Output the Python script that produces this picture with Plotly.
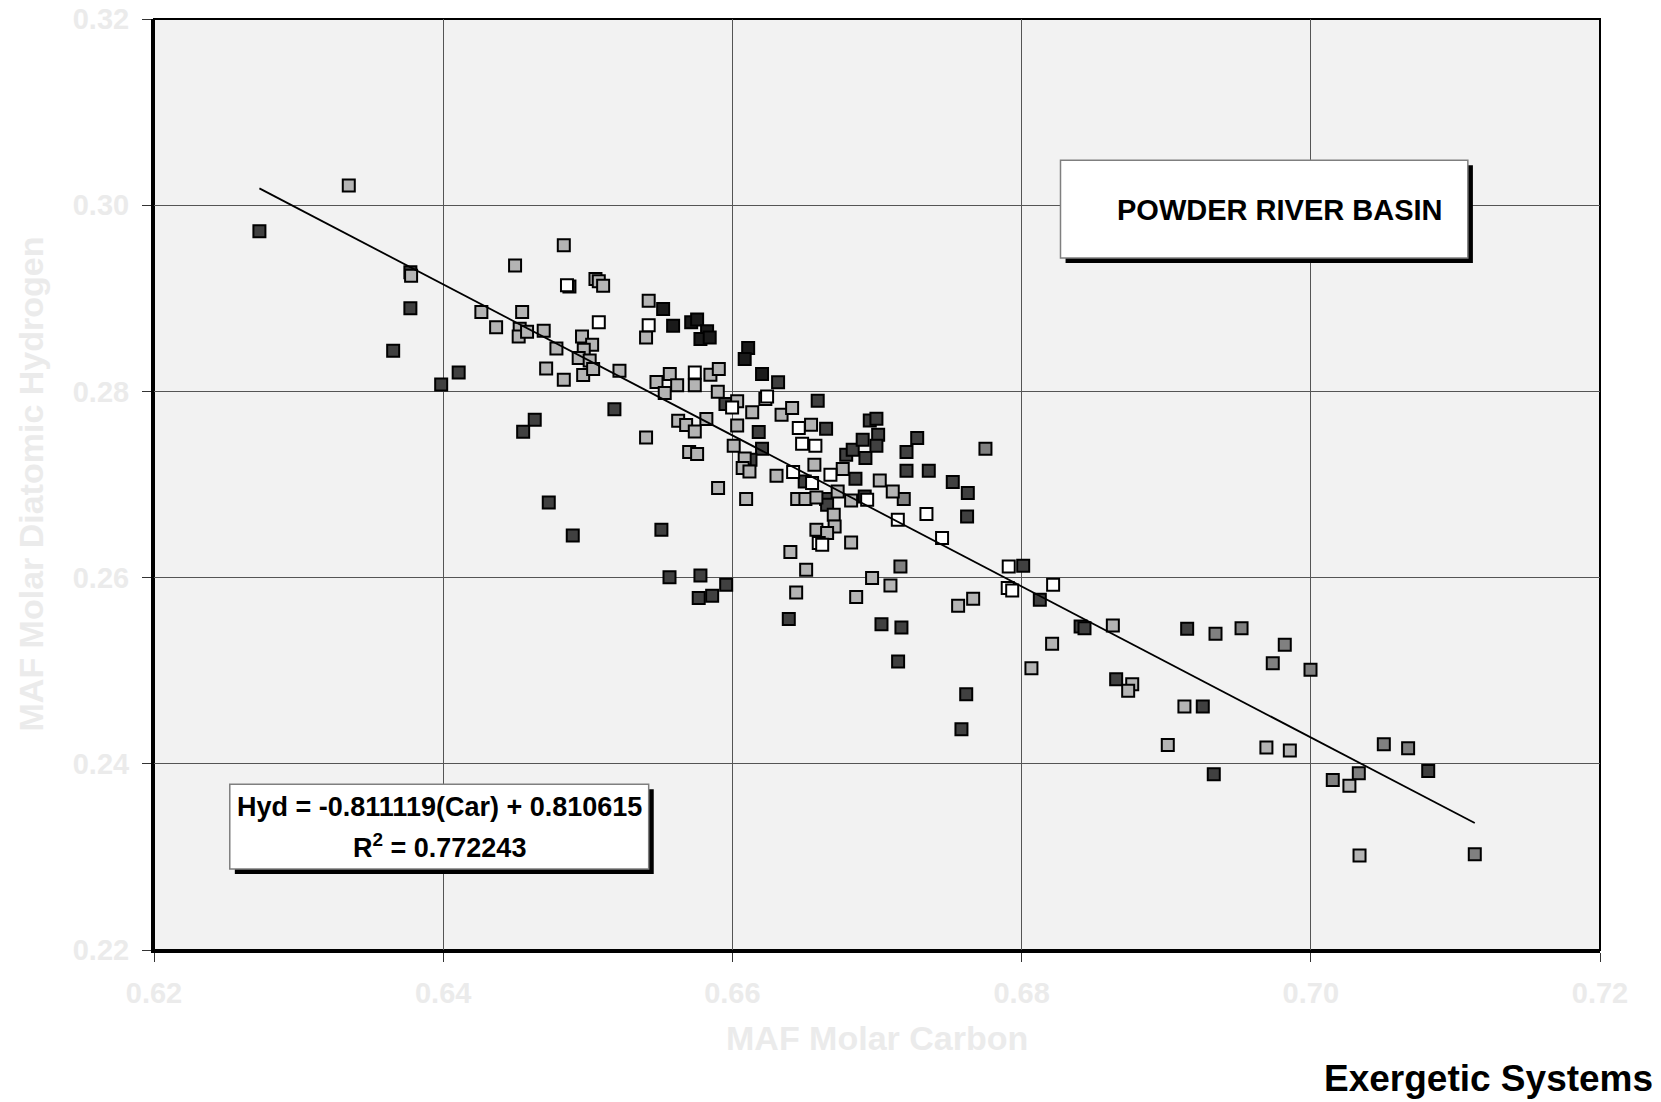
import plotly.graph_objects as go

# ---------------- data ----------------
light_x = [0.63347, 0.63778, 0.64834, 0.64497, 0.65053, 0.65076, 0.65106, 0.65421, 0.65403, 0.64264,
           0.64546, 0.64366, 0.64529, 0.64522, 0.64580, 0.64695, 0.64783, 0.64960, 0.65030, 0.64972,
           0.64937, 0.65013, 0.64712, 0.64834, 0.64968, 0.65037, 0.65219, 0.65475, 0.65567, 0.65618,
           0.65532, 0.65740, 0.65403, 0.65625, 0.65680, 0.65740, 0.65701, 0.65848, 0.65906, 0.65899,
           0.66033, 0.65820, 0.65756, 0.65901, 0.66033, 0.66137, 0.66009, 0.66085, 0.66071, 0.66118,
           0.66095, 0.66340, 0.66413, 0.66544, 0.66305, 0.66567, 0.66763, 0.66448, 0.66505, 0.66581,
           0.66728, 0.66821, 0.66701, 0.66707, 0.66581, 0.66655, 0.66821, 0.66401, 0.66510, 0.66441,
           0.67019, 0.67109, 0.66966, 0.67093, 0.66856, 0.67561, 0.67665, 0.68211, 0.68068, 0.68631,
           0.68765, 0.68737, 0.69126, 0.69011, 0.69693, 0.69855, 0.70267, 0.70337]
light_y = [0.30211, 0.29243, 0.29569, 0.29351, 0.29208, 0.29182, 0.29136, 0.28975, 0.28580, 0.28853,
           0.28853, 0.28688, 0.28674, 0.28591, 0.28642, 0.28652, 0.28462, 0.28591, 0.28502, 0.28448,
           0.28359, 0.28333, 0.28247, 0.28126, 0.28176, 0.28241, 0.28222, 0.28101, 0.28187, 0.28065,
           0.27983, 0.28065, 0.27506, 0.27685, 0.27639, 0.27570, 0.27349, 0.28180, 0.28241, 0.27997,
           0.27893, 0.27703, 0.27327, 0.26962, 0.27634, 0.27775, 0.27416, 0.27280, 0.27177, 0.27140,
           0.26844, 0.27750, 0.27822, 0.27642, 0.27094, 0.27212, 0.27166, 0.26844, 0.26844, 0.26861,
           0.26925, 0.26829, 0.26675, 0.26549, 0.26514, 0.26478, 0.26377, 0.26274, 0.26084, 0.25840,
           0.27044, 0.26925, 0.25995, 0.25915, 0.25791, 0.25697, 0.25772, 0.25289, 0.25027, 0.25485,
           0.24855, 0.24784, 0.24615, 0.24203, 0.24174, 0.24142, 0.23763, 0.23014]

medium_x = [0.67185, 0.67750, 0.67162, 0.69341, 0.69521, 0.69820, 0.69737, 0.69998, 0.70152, 0.70332,
            0.70505, 0.70673, 0.71134]
medium_y = [0.26844, 0.27384, 0.26120, 0.25396, 0.25457, 0.25278, 0.25081, 0.25009, 0.23827, 0.23899,
            0.24211, 0.24168, 0.23029]

dark_x = [0.62729, 0.63773, 0.63773, 0.63654, 0.64107, 0.63986, 0.64873, 0.65184, 0.64633, 0.64553,
          0.64730, 0.64896, 0.65509, 0.66316, 0.65952, 0.66182, 0.66205, 0.66125, 0.66590, 0.66648,
          0.66500, 0.66787, 0.66832, 0.66901, 0.66950, 0.66996, 0.67008, 0.66996, 0.66920, 0.66851,
          0.66648, 0.66655, 0.66915, 0.66390, 0.67204, 0.67278, 0.67204, 0.67358, 0.67524, 0.67628,
          0.67623, 0.67031, 0.67169, 0.67146, 0.68011, 0.68126, 0.68408, 0.68435, 0.65565, 0.65779,
          0.65767, 0.65860, 0.65957, 0.68654, 0.69145, 0.69253, 0.69329, 0.70812, 0.67617, 0.67584]
dark_y = [0.29720, 0.29279, 0.28892, 0.28437, 0.28204, 0.28075, 0.29128, 0.27807, 0.27696, 0.27567,
          0.26807, 0.26453, 0.26514, 0.28097, 0.27865, 0.27564, 0.27384, 0.27266, 0.27900, 0.27599,
          0.27033, 0.27320, 0.27373, 0.27481, 0.27688, 0.27707, 0.27535, 0.27416, 0.27284, 0.27062,
          0.26844, 0.26782, 0.26872, 0.25554, 0.27349, 0.27499, 0.27148, 0.27148, 0.27026, 0.26908,
          0.26657, 0.25500, 0.25464, 0.25099, 0.26127, 0.25761, 0.25475, 0.25457, 0.26005, 0.26023,
          0.25780, 0.25804, 0.25923, 0.24909, 0.25450, 0.24615, 0.23888, 0.23924, 0.24748, 0.24372]

darkest_x = [0.65521, 0.65590, 0.65715, 0.65756, 0.65825, 0.65779, 0.65843, 0.66109, 0.66085, 0.66205]
darkest_y = [0.28885, 0.28706, 0.28742, 0.28771, 0.28645, 0.28563, 0.28580, 0.28467, 0.28348, 0.28187]

white_x = [0.64856, 0.65076, 0.65421, 0.65740, 0.65998, 0.66228, 0.66240, 0.66459, 0.66482, 0.66574,
           0.66420, 0.66551, 0.66678, 0.66932, 0.66597, 0.66621, 0.67144, 0.67342, 0.67450, 0.67911,
           0.67904, 0.67935, 0.68218]
white_y = [0.29139, 0.28742, 0.28710, 0.28204, 0.27828, 0.27918, 0.27946, 0.27607, 0.27439, 0.27416,
           0.27134, 0.27015, 0.27105, 0.26836, 0.26371, 0.26353, 0.26621, 0.26682, 0.26425, 0.26120,
           0.25887, 0.25861, 0.25923]

slope = -0.811119
intercept = 0.810615
r_squared = 0.772243

x_ticks = [0.62, 0.64, 0.66, 0.68, 0.70, 0.72]
y_ticks = [0.22, 0.24, 0.26, 0.28, 0.30, 0.32]

# ---------------- figure ----------------
FONT = "Liberation Sans, Arial, Helvetica, sans-serif"
LABEL_GRAY = "#ebebeb"

fig = go.Figure()

series = [
    (dark_x, dark_y, "#404040"),
    (darkest_x, darkest_y, "#1a1a1a"),
    (medium_x, medium_y, "#808080"),
    (light_x, light_y, "#b4b4b4"),
    (white_x, white_y, "#ffffff"),
]
for xs, ys, col in series:
    fig.add_trace(go.Scatter(
        x=xs, y=ys, mode="markers",
        marker=dict(symbol="square", size=12, color=col,
                    line=dict(color="#000000", width=2)),
        showlegend=False, hoverinfo="x+y"))

all_x = light_x + medium_x + dark_x + darkest_x + white_x
line_x = [min(all_x), max(all_x)]
line_y = [slope * v + intercept for v in line_x]
fig.add_trace(go.Scatter(x=line_x, y=line_y, mode="lines",
                         line=dict(color="#000000", width=1.8), showlegend=False,
                         hoverinfo="skip"))

# text boxes (shadow + white box)
def add_box(x0, x1, y0, y1):
    dx, dy = 0.00035, 0.00055
    fig.add_shape(type="rect", xref="x", yref="y", x0=x0 + dx, x1=x1 + dx, y0=y0 - dy, y1=y1 - dy,
                  fillcolor="#000000", line=dict(width=0), layer="above")
    fig.add_shape(type="rect", xref="x", yref="y", x0=x0, x1=x1, y0=y0, y1=y1,
                  fillcolor="#ffffff", line=dict(color="#7f7f7f", width=1.5), layer="above")

add_box(0.68269, 0.71086, 0.29434, 0.30483)
add_box(0.62524, 0.65421, 0.22870, 0.23781)

fig.add_annotation(x=0.69783, y=0.29945, xref="x", yref="y", text="POWDER RIVER BASIN",
                   showarrow=False, xanchor="center", yanchor="middle",
                   font=dict(family=FONT, size=29, color="#000000", weight="bold"))
fig.add_annotation(x=0.63977, y=0.23537, xref="x", yref="y",
                   text=f"Hyd = {slope:.6f}(Car) + {intercept:.6f}",
                   showarrow=False, xanchor="center", yanchor="middle",
                   font=dict(family=FONT, size=27, color="#000000", weight="bold"))
fig.add_annotation(x=0.63977, y=0.23121, xref="x", yref="y",
                   text=f"R<sup>2</sup> = {r_squared:.6f}",
                   showarrow=False, xanchor="center", yanchor="middle",
                   font=dict(family=FONT, size=27, color="#000000", weight="bold"))

# axis titles
fig.add_annotation(x=0.5, y=0, xref="paper", yref="paper", text="MAF Molar Carbon",
                   showarrow=False, xanchor="center", yanchor="middle", yshift=-88,
                   font=dict(family=FONT, size=34, color=LABEL_GRAY, weight="bold"))
fig.add_annotation(x=0, y=0.5, xref="paper", yref="paper", text="MAF Molar Diatomic Hydrogen",
                   showarrow=False, xanchor="center", yanchor="middle", xshift=-124,
                   textangle=-90,
                   font=dict(family=FONT, size=34, color=LABEL_GRAY, weight="bold"))
fig.add_annotation(x=1, y=0, xref="paper", yref="paper", text="Exergetic Systems",
                   showarrow=False, xanchor="right", yanchor="middle", xshift=55, yshift=-128,
                   font=dict(family=FONT, size=37, color="#000000", weight="bold"))

# frame on top/right
fig.add_shape(type="rect", xref="paper", yref="paper", x0=0, x1=1, y0=0, y1=1,
              line=dict(color="#000000", width=2), layer="below")

axis_common = dict(
    showgrid=True, gridcolor="#555555", gridwidth=1, zeroline=False,
    showline=True, linecolor="#000000", linewidth=3, mirror=False,
    ticks="outside", ticklen=9, tickwidth=1, tickcolor="#333333",
    tickfont=dict(family=FONT, size=29, color=LABEL_GRAY, weight="bold"),
    automargin=False, ticklabeloverflow="allow",
)

fig.update_xaxes(range=[0.62, 0.72], tickvals=x_ticks, ticktext=[f"{v:.2f}" for v in x_ticks],
                 ticklabelstandoff=6, **axis_common)
fig.update_yaxes(range=[0.22, 0.32], tickvals=y_ticks, ticktext=[f"{v:.2f}" for v in y_ticks],
                 ticklabelstandoff=7, **axis_common)

fig.update_layout(
    width=1661, height=1102, autosize=False,
    margin=dict(l=154, r=61, t=19, b=152, pad=0, autoexpand=False),
    paper_bgcolor="#ffffff", plot_bgcolor="#f2f2f2",
    showlegend=False,
    font=dict(family=FONT),
)

# remove the browser's default 8px body margin so the figure fills the window exactly
fig.write_html("out.html", config={"displayModeBar": False},
               post_script="document.body.style.margin='0px';")
